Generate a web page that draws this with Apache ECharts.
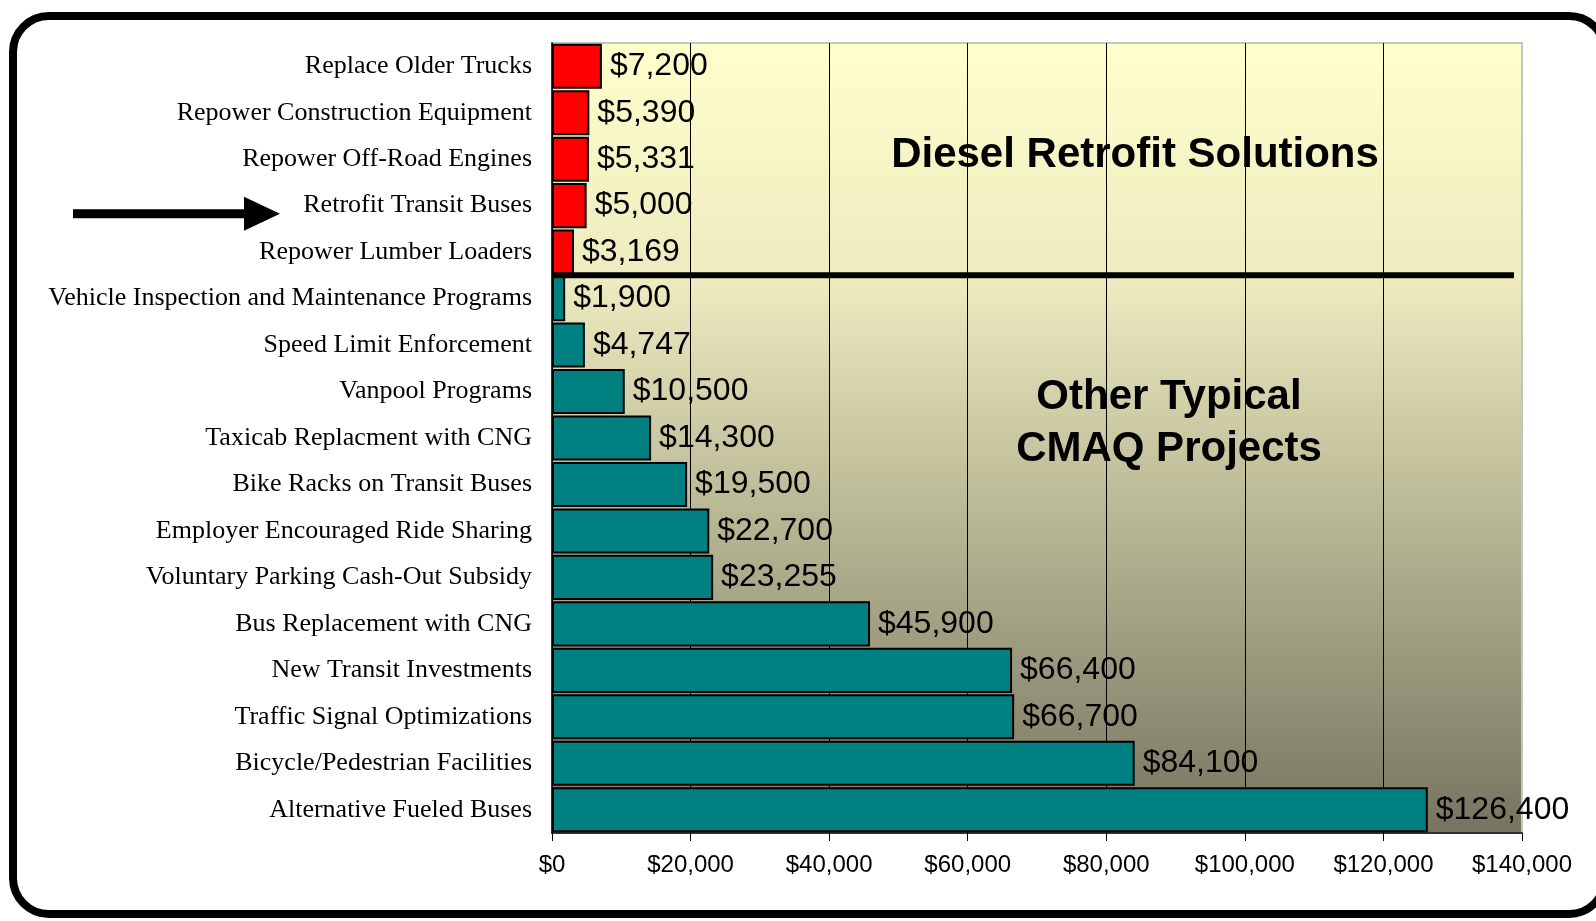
<!DOCTYPE html>
<html>
<head>
<meta charset="utf-8">
<script src="https://cdn.jsdelivr.net/npm/echarts@6/dist/echarts.min.js"></script>
<style>
  html, body { margin: 0; padding: 0; background: #fff; }
  #chart { width: 1596px; height: 921px; }
</style>
</head>
<body>
<div id="chart"></div>
<script>
const categories = [
  'Replace Older Trucks',
  'Repower Construction Equipment',
  'Repower Off-Road Engines',
  'Retrofit Transit Buses',
  'Repower Lumber Loaders',
  'Vehicle Inspection and Maintenance Programs',
  'Speed Limit Enforcement',
  'Vanpool Programs',
  'Taxicab Replacment with CNG',
  'Bike Racks on Transit Buses',
  'Employer Encouraged Ride Sharing',
  'Voluntary Parking Cash-Out Subsidy',
  'Bus Replacement with CNG',
  'New Transit Investments',
  'Traffic Signal Optimizations',
  'Bicycle/Pedestrian Facilities',
  'Alternative Fueled Buses'
]
const costs = [7200, 5390, 5331, 5000, 3169, 1900, 4747, 10500, 14300, 19500, 22700, 23255, 45900, 66400, 66700, 84100, 126400]
const dieselCount = 5
const highlighted = 'Retrofit Transit Buses'

const fmtMoney = (v) => '$' + Number(v).toLocaleString('en-US')

const chart = echarts.init(document.getElementById('chart'))

const option = {
  backgroundColor: '#fff',
  animation: false,
  grid: {
    left: 552,
    right: 74,
    top: 43,
    bottom: 88,
    show: true,
    borderColor: '#c4c4c4',
    borderWidth: 2,
    backgroundColor: new echarts.graphic.LinearGradient(0, 0, 0, 1, [
      { offset: 0, color: '#FFFFCC' },
      { offset: 0.3, color: '#EDEBBF' },
      { offset: 0.6, color: '#B8B794' },
      { offset: 1, color: '#767460' }
    ])
  },
  xAxis: {
    type: 'value',
    min: 0,
    max: 140000,
    interval: 20000,
    z: 1.5,
    axisLine: { show: true, lineStyle: { color: '#000', width: 1.5 } },
    axisTick: { show: true, length: 8, lineStyle: { color: '#000' } },
    axisLabel: {
      formatter: fmtMoney,
      margin: 20,
      color: '#000',
      fontFamily: 'Liberation Sans',
      fontSize: 24
    },
    splitLine: {
      show: true,
      showMaxLine: false,
      lineStyle: { color: '#000', width: 1 }
    }
  },
  yAxis: {
    type: 'category',
    inverse: true,
    data: categories,
    axisLine: { show: true, lineStyle: { color: '#000', width: 1.5 } },
    axisTick: { show: false },
    axisLabel: {
      margin: 20,
      color: '#000',
      fontFamily: 'Liberation Serif',
      fontSize: 26
    }
  },
  series: [
    {
      type: 'bar',
      barCategoryGap: '3%',
      data: costs.map((v, i) => ({
        value: v,
        itemStyle: { color: i < dieselCount ? '#FF0000' : '#008080' }
      })),
      itemStyle: { borderColor: '#000', borderWidth: 2 },
      label: {
        show: true,
        position: 'right',
        distance: 8,
        formatter: (p) => fmtMoney(p.value),
        color: '#000',
        fontFamily: 'Liberation Sans',
        fontSize: 32
      }
    }
  ]
}

chart.setOption(option)

// decorations placed through the chart's own coordinate system
const px = (x, cat) => chart.convertToPixel({ gridIndex: 0 }, [x, cat])
const band = px(0, categories[1])[1] - px(0, categories[0])[1]
const sepY = px(0, categories[dieselCount])[1] - band / 2
const leftX = px(0, categories[0])[0]
const rightX = px(140000, categories[0])[0]
const arrowY = px(0, highlighted)[1] + 8
const dieselY = px(0, categories[2])[1] - 4
const otherY = px(0, categories[8])[1] - 15

chart.setOption({
  graphic: [
    {
      type: 'rect',
      z: 10,
      shape: { x: 13, y: 16, width: 1592, height: 898, r: 36 },
      style: { fill: null, stroke: '#000', lineWidth: 8 }
    },
    {
      type: 'line',
      z: 10,
      shape: { x1: leftX, y1: sepY, x2: rightX - 8, y2: sepY },
      style: { stroke: '#000', lineWidth: 6 }
    },
    {
      type: 'polygon',
      z: 10,
      shape: {
        points: [
          [73, arrowY - 4.5], [244, arrowY - 4.5], [244, arrowY - 17],
          [280, arrowY], [244, arrowY + 17], [244, arrowY + 4.5], [73, arrowY + 4.5]
        ]
      },
      style: { fill: '#000' }
    },
    {
      type: 'text',
      z: 1,
      x: 1135,
      y: dieselY,
      style: {
        text: 'Diesel Retrofit Solutions',
        fill: '#000',
        font: 'bold 42px "Liberation Sans"',
        align: 'center',
        verticalAlign: 'middle'
      }
    },
    {
      type: 'text',
      z: 1,
      x: 1169,
      y: otherY,
      style: {
        text: 'Other Typical\nCMAQ Projects',
        fill: '#000',
        font: 'bold 42px "Liberation Sans"',
        lineHeight: 52,
        align: 'center',
        verticalAlign: 'middle'
      }
    }
  ]
})

window.addEventListener('resize', () => chart.resize())
</script>
</body>
</html>
